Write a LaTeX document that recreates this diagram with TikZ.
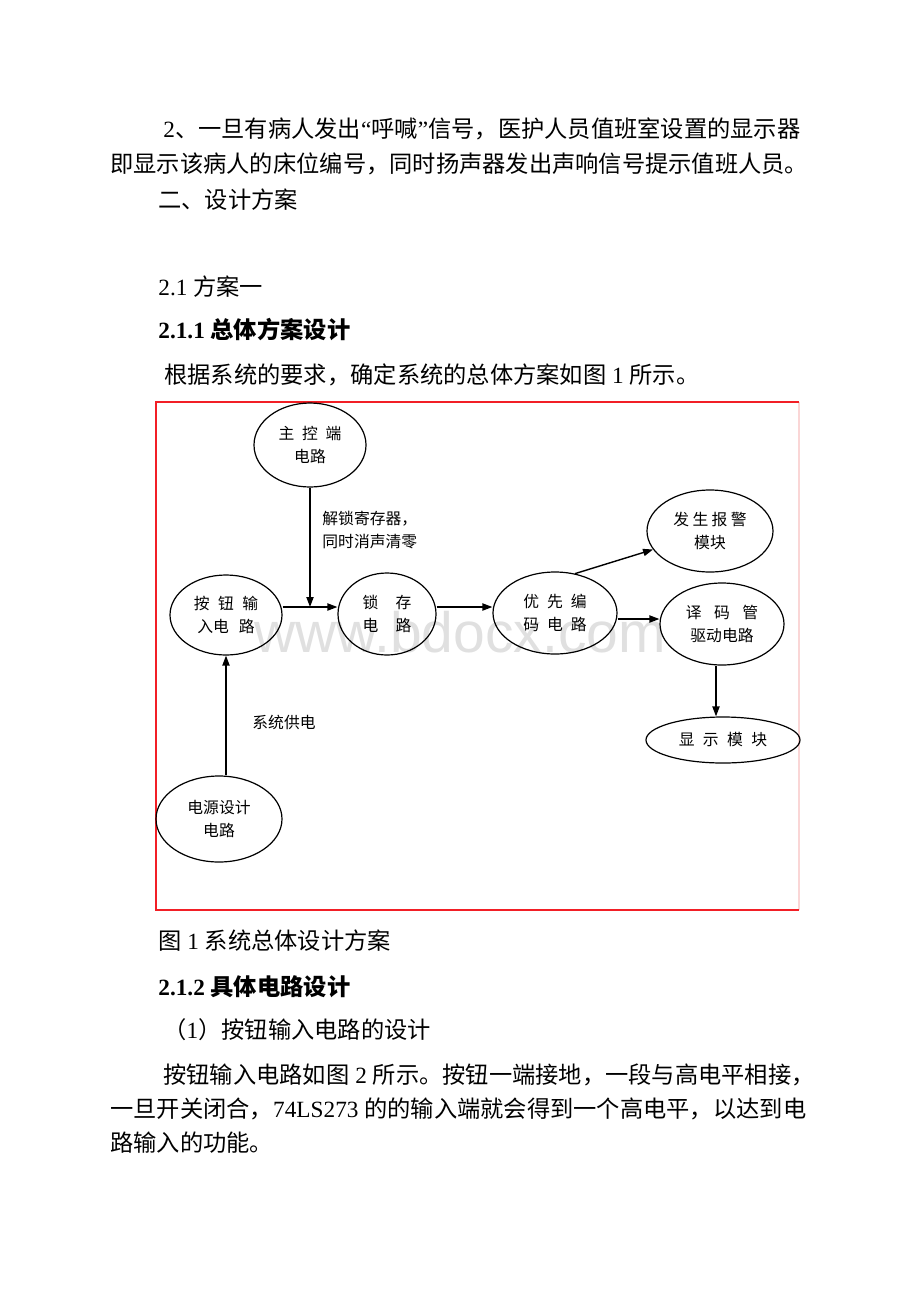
\documentclass[tikz,border=0pt]{standalone}
\usepackage{fontspec}
\setmainfont{Liberation Serif}
\newfontfamily\cjk{Noto Sans CJK SC}
\newfontfamily\marksans{Liberation Sans}
\usepackage{tikz}
\usepackage{xcolor}
\usetikzlibrary{shapes.geometric,arrows.meta}
\definecolor{BoxRed}{rgb}{0.95,0.12,0.15}
\definecolor{BoxPink}{rgb}{0.98,0.84,0.84}
\definecolor{MarkGray}{gray}{0.88}
\newcommand{\zh}[1]{{\cjk #1}}
\newcommand{\hgap}[1]{\hspace{#1}}

\begin{document}
\begin{tikzpicture}[x=0.5pt,y=-0.5pt,
    txt/.style={anchor=base west,inner sep=0pt,font=\fontsize{11.63pt}{14pt}\selectfont},
    blob/.style={ellipse,draw,line width=0.6pt,inner sep=0pt,align=center,
                 font={\cjk\fontsize{7.9pt}{11.5pt}\selectfont}},
    lbl/.style={anchor=west,inner sep=0pt,align=left,
                font={\cjk\fontsize{7.9pt}{11.5pt}\selectfont}},
    link/.style={->,line width=0.7pt},
    >={Triangle[length=5pt,width=3.6pt]}]
        \useasboundingbox (0,0) rectangle (920,1302);

        % text above the figure
        \node[txt] (p1) at (163,137) {2\zh{、一旦有病人发出}“\zh{呼喊}”\zh{信号，医护人员值班室设置的显示器}};
        \node[txt] (p2) at (110,172) {\zh{即显示该病人的床位编号，同时扬声器发出声响信号提示值班人员。}};
        \node[txt] (h1) at (158,208) {\zh{二、设计方案}};
        \node[txt] (h2) at (158,295) {2.1 \zh{方案一}};
        \node[txt,font=\fontsize{11.63pt}{14pt}\selectfont\bfseries] (h3) at (158,338) {2.1.1 \zh{总体方案设计}};
        \node[txt] (p3) at (164,383) {\zh{根据系统的要求，确定系统的总体方案如图} 1 \zh{所示。}};

        % watermark
        \node[anchor=base,inner sep=0pt,text=MarkGray,font=\marksans\fontsize{28.5pt}{30pt}\selectfont] (wm) at (460,652) {www.bdocx.com};

        % frame
        \draw[BoxPink,line width=0.6pt] (799,402) -- (799,910);
        \draw[BoxRed,line width=0.9pt] (799,402) -- (156,402) -- (156,910) -- (799,910);

        % blocks
        \node[blob,minimum width=56pt,minimum height=42pt] (ctrl) at (310,445) {主\hgap{3.9pt}控\hgap{3.9pt}端\\电路};
        \node[blob,minimum width=56pt,minimum height=40pt] (btn) at (226,615) {按\hgap{4.2pt}钮\hgap{4.2pt}输\\入电\hgap{5pt}路};
        \node[blob,minimum width=49pt,minimum height=41pt] (latch) at (387,614) {锁\hgap{8.7pt}存\\电\hgap{8.7pt}路};
        \node[blob,minimum width=62pt,minimum height=41pt] (enc) at (555,613) {优\hgap{4pt}先\hgap{4pt}编\\码\hgap{4pt}电\hgap{4pt}路};
        \node[blob,minimum width=63pt,minimum height=41pt] (alarm) at (710,531) {发\hgap{1.7pt}生\hgap{1.7pt}报\hgap{1.7pt}警\\模块};
        \node[blob,minimum width=62pt,minimum height=41pt] (dec) at (722,624) {译\hgap{6.2pt}码\hgap{6.2pt}管\\驱动电路};
        \node[blob,minimum width=77pt,minimum height=23pt] (disp) at (723,740) {显\hgap{4.2pt}示\hgap{4.2pt}模\hgap{4.2pt}块};
        \node[blob,minimum width=63pt,minimum height=43pt] (psu) at (219,819) {电源设计\\电路};

        \node[lbl] (unlock) at (322,530) {解锁寄存器，\\同时消声清零};
        \node[lbl] (power) at (252,722) {系统供电};

        % connectors
        \coordinate (j) at (310,607);
        \coordinate (k) at (640,619);
        \coordinate (m) at (716,690);
        \draw[link] (ctrl.south) -- (j);
        \draw[link] (btn.east |- j) -- (latch.west |- j);
        \draw[link] (latch.east |- j) -- (enc.west |- j);
        \draw[link] (enc.63) -- (alarm.198);
        \draw[link] (enc.east |- k) -- (dec.west |- k);
        \draw[link] (dec.south -| m) -- (disp.north -| m);
        \draw[link] (psu.north -| btn.south) -- (btn.south);

        % text below the figure
        \node[txt] (cap) at (158,949) {\zh{图} 1 \zh{系统总体设计方案}};
        \node[txt,font=\fontsize{11.63pt}{14pt}\selectfont\bfseries] (h4) at (158,995) {2.1.2 \zh{具体电路设计}};
        \node[txt] (h5) at (163,1038) {\zh{（}1\zh{）按钮输入电路的设计}};
        \node[txt] (p4) at (163,1083) {\zh{按钮输入电路如图} 2 \zh{所示。按钮一端接地，一段与高电平相接，}};
        \node[txt] (p5) at (110,1117) {\zh{一旦开关闭合，}74LS273 \zh{的的输入端就会得到一个高电平，以达到电}};
        \node[txt] (p6) at (110,1151) {\zh{路输入的功能。}};
\end{tikzpicture}
\end{document}
